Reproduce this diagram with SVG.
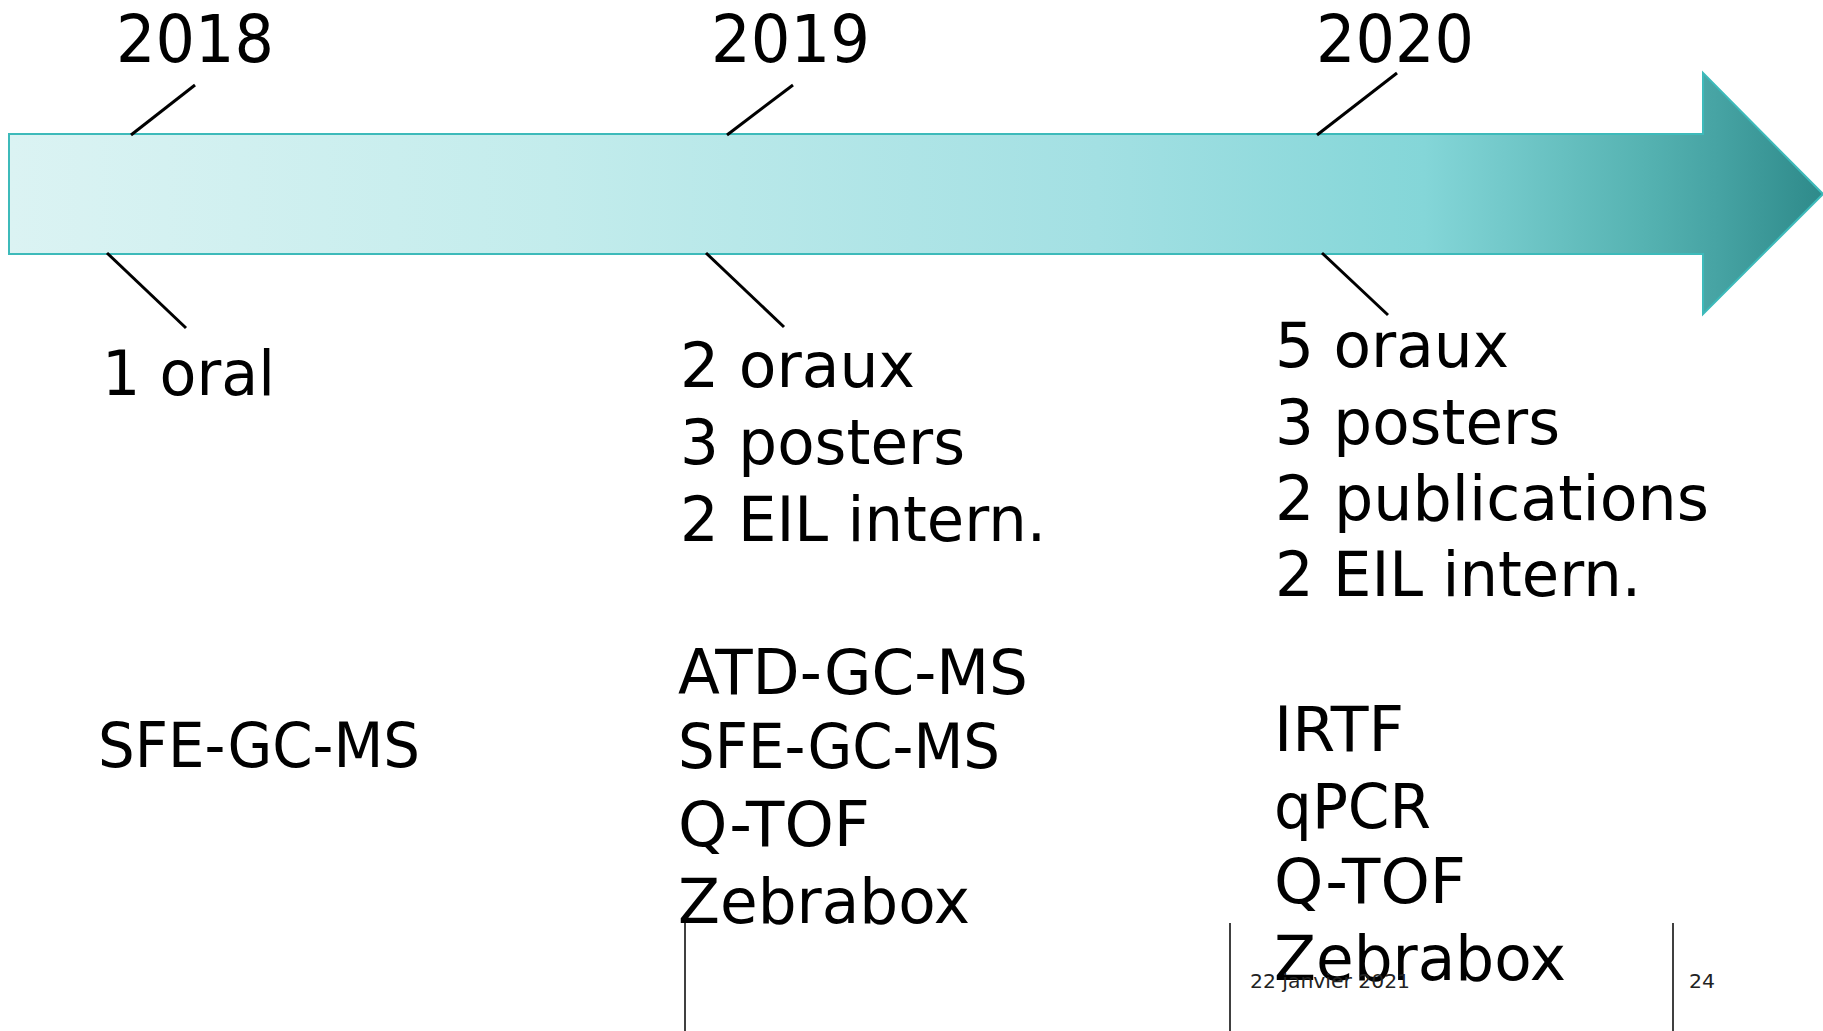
<svg xmlns="http://www.w3.org/2000/svg" width="1823" height="1031" viewBox="0 0 1823 1031">
  <defs>
    <linearGradient id="arrowFill" gradientUnits="userSpaceOnUse" x1="9" y1="0" x2="1823" y2="0">
      <stop offset="0" stop-color="#dbf3f3"/>
      <stop offset="0.3" stop-color="#c3ecec"/>
      <stop offset="0.6" stop-color="#a3e0e3"/>
      <stop offset="0.78" stop-color="#84d6d8"/>
      <stop offset="0.9" stop-color="#56b3b2"/>
      <stop offset="0.94" stop-color="#47a4a4"/>
      <stop offset="1" stop-color="#2e8a8a"/>
    </linearGradient>
  </defs>
  <style>
    .big { font-family: "DejaVu Sans", "Liberation Sans", sans-serif; font-size: 62px; fill: #000; }
    .year { font-family: "DejaVu Sans", "Liberation Sans", sans-serif; font-size: 66px; fill: #000; }
    .foot { font-family: "DejaVu Sans", "Liberation Sans", sans-serif; font-size: 20px; fill: #222; }
    .tick { stroke: #000; stroke-width: 3; fill: none; }
    .rule { stroke: #000; stroke-width: 1.5; }
  </style>

  <rect width="1823" height="1031" fill="#fff"/>

  <!-- timeline arrow -->
  <g id="timeline">
    <polygon points="9,134 1703,134 1703,73 1823,194 1703,314 1703,254 9,254" fill="url(#arrowFill)" stroke="#3dbaba" stroke-width="2"/>
  </g>

  <!-- leader lines from the arrow to the labels -->
  <g id="connectors">
    <line class="tick" x1="195" y1="85" x2="131" y2="135"/>
    <line class="tick" x1="793" y1="85" x2="727" y2="135"/>
    <line class="tick" x1="1397" y1="73" x2="1317" y2="135"/>
    <line class="tick" x1="107" y1="253" x2="186" y2="328"/>
    <line class="tick" x1="706" y1="253" x2="784" y2="327"/>
    <line class="tick" x1="1322" y1="253" x2="1388" y2="315"/>
  </g>

  <!-- years -->
  <g id="year-2018"><text class="year" x="116" y="62" textLength="158" lengthAdjust="spacingAndGlyphs">2018</text></g>
  <g id="year-2019"><text class="year" x="711" y="62" textLength="159" lengthAdjust="spacingAndGlyphs">2019</text></g>
  <g id="year-2020"><text class="year" x="1316" y="62" textLength="158" lengthAdjust="spacingAndGlyphs">2020</text></g>

  <!-- communications -->
  <g id="comm-2018">
    <text class="big" x="102" y="395" textLength="173" lengthAdjust="spacingAndGlyphs">1 oral</text>
  </g>
  <g id="comm-2019">
    <text class="big" x="680" y="387" textLength="235" lengthAdjust="spacingAndGlyphs">2 oraux</text>
    <text class="big" x="680" y="464" textLength="285" lengthAdjust="spacingAndGlyphs">3 posters</text>
    <text class="big" x="680" y="541" textLength="366" lengthAdjust="spacingAndGlyphs">2 EIL intern.</text>
  </g>
  <g id="comm-2020">
    <text class="big" x="1275" y="367" textLength="234" lengthAdjust="spacingAndGlyphs">5 oraux</text>
    <text class="big" x="1275" y="444" textLength="285" lengthAdjust="spacingAndGlyphs">3 posters</text>
    <text class="big" x="1275" y="520" textLength="434" lengthAdjust="spacingAndGlyphs">2 publications</text>
    <text class="big" x="1275" y="596" textLength="366" lengthAdjust="spacingAndGlyphs">2 EIL intern.</text>
  </g>

  <!-- techniques -->
  <g id="tech-2018">
    <text class="big" x="98" y="767" textLength="322" lengthAdjust="spacingAndGlyphs">SFE-GC-MS</text>
  </g>
  <g id="tech-2019">
    <text class="big" x="678" y="694" textLength="350" lengthAdjust="spacingAndGlyphs">ATD-GC-MS</text>
    <text class="big" x="678" y="768" textLength="322" lengthAdjust="spacingAndGlyphs">SFE-GC-MS</text>
    <text class="big" x="678" y="846" textLength="192" lengthAdjust="spacingAndGlyphs">Q-TOF</text>
    <text class="big" x="678" y="923" textLength="292" lengthAdjust="spacingAndGlyphs">Zebrabox</text>
  </g>
  <g id="tech-2020">
    <text class="big" x="1274" y="751" textLength="130" lengthAdjust="spacingAndGlyphs">IRTF</text>
    <text class="big" x="1274" y="828" textLength="157" lengthAdjust="spacingAndGlyphs">qPCR</text>
    <text class="big" x="1274" y="903" textLength="192" lengthAdjust="spacingAndGlyphs">Q-TOF</text>
    <text class="big" x="1274" y="980" textLength="292" lengthAdjust="spacingAndGlyphs">Zebrabox</text>
  </g>

  <!-- footer -->
  <g id="footer">
    <line class="rule" x1="685" y1="923" x2="685" y2="1031"/>
    <line class="rule" x1="1230" y1="923" x2="1230" y2="1031"/>
    <line class="rule" x1="1673" y1="923" x2="1673" y2="1031"/>
    <text class="foot" x="1250" y="988" textLength="160" lengthAdjust="spacingAndGlyphs">22 janvier 2021</text>
    <text class="foot" x="1689" y="988" textLength="26" lengthAdjust="spacingAndGlyphs">24</text>
  </g>
</svg>
